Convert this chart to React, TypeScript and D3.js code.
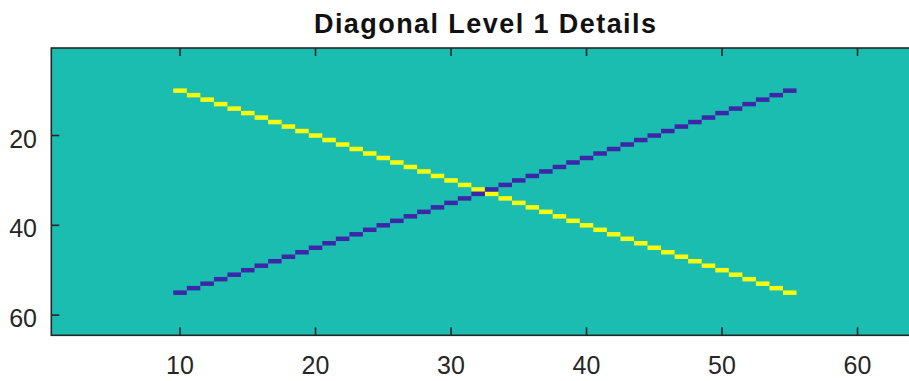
import React from "react";
import * as d3 from "d3";

const title = "Diagonal Level 1 Details";
const nRows = 64;
const nCols = 64;
const cols = [10, 11, 12, 13, 14, 15, 16, 17, 18, 19, 20, 21, 22, 23, 24, 25, 26, 27, 28, 29, 30, 31, 32, 33, 34, 35, 36, 37, 38, 39, 40, 41, 42, 43, 44, 45, 46, 47, 48, 49, 50, 51, 52, 53, 54, 55];
const highRows = [10, 11, 12, 13, 14, 15, 16, 17, 18, 19, 20, 21, 22, 23, 24, 25, 26, 27, 28, 29, 30, 31, 32, 33, 34, 35, 36, 37, 38, 39, 40, 41, 42, 43, 44, 45, 46, 47, 48, 49, 50, 51, 52, 53, 54, 55];
const lowRows = [55, 54, 53, 52, 51, 50, 49, 48, 47, 46, 45, 44, 43, 42, 41, 40, 39, 38, 37, 36, 35, 34, 33, 32, 31, 30, 29, 28, 27, 26, 25, 24, 23, 22, 21, 20, 19, 18, 17, 16, 15, 14, 13, 12, 11, 10];
const highValue = 1;
const lowValue = -1;
const backgroundValue = 0;
const xTicks = [10, 20, 30, 40, 50, 60];
const yTicks = [20, 40, 60];

const W = 909;
const H = 381;
const left = 51.3;
const right = 918.5;
const top = 48;
const bottom = 335.3;

export default function App() {
  const x = d3.scaleLinear().domain([0.5, nCols + 0.5]).range([left, right]);
  const y = d3.scaleLinear().domain([0.5, nRows + 0.5]).range([top, bottom]);
  const color = d3
    .scaleLinear<string>()
    .domain([-1, 0, 1])
    .range(["#3e26a8", "#1bbdb1", "#f9fb0e"])
    .interpolate(d3.interpolateRgb);

  const cells = [
    ...cols.map((c, i) => ({ c, r: highRows[i], v: highValue })),
    ...cols.map((c, i) => ({ c, r: lowRows[i], v: lowValue })),
  ];
  const cw = x(1.5) - x(0.5);
  const ch = y(1.5) - y(0.5);
  const axisColor = "#262626";
  const font = "'Liberation Sans', Arial, Helvetica, sans-serif";

  return (
    <svg
      width={W}
      height={H}
      style={{ position: "absolute", left: 0, top: 0, background: "#fff" }}
      fontFamily={font}
    >
      <defs>
        <clipPath id="plot">
          <rect x={left} y={top} width={right - left} height={bottom - top} />
        </clipPath>
      </defs>
      <g clipPath="url(#plot)">
        <rect
          x={left}
          y={top}
          width={right - left}
          height={bottom - top}
          fill={color(backgroundValue)}
        />
        {cells.map((d, i) => (
          <rect
            key={i}
            x={x(d.c - 0.5)}
            y={y(d.r - 0.5)}
            width={cw}
            height={ch}
            fill={color(d.v)}
          />
        ))}
      </g>
      <rect
        x={left}
        y={top}
        width={right - left}
        height={bottom - top}
        fill="none"
        stroke={axisColor}
        strokeWidth={1.6}
      />
      {xTicks.map((t) => (
        <g key={"x" + t}>
          <line x1={x(t)} x2={x(t)} y1={bottom} y2={bottom - 8} stroke={axisColor} strokeWidth={1.6} />
          <line x1={x(t)} x2={x(t)} y1={top} y2={top + 8} stroke={axisColor} strokeWidth={1.6} />
          <text x={x(t)} y={374} textAnchor="middle" fontSize={25} fill={axisColor}>
            {t}
          </text>
        </g>
      ))}
      {yTicks.map((t) => (
        <g key={"y" + t}>
          <line x1={left} x2={left + 8} y1={y(t)} y2={y(t)} stroke={axisColor} strokeWidth={1.6} />
          <text x={37} y={y(t) + 12} textAnchor="end" fontSize={25} fill={axisColor}>
            {t}
          </text>
        </g>
      ))}
      <text
        x={314}
        y={32.5}
        textAnchor="start"
        fontSize={27}
        fontWeight="bold"
        fill="#111"
        textLength={342}
        lengthAdjust="spacing"
      >
        {title}
      </text>
    </svg>
  );
}
